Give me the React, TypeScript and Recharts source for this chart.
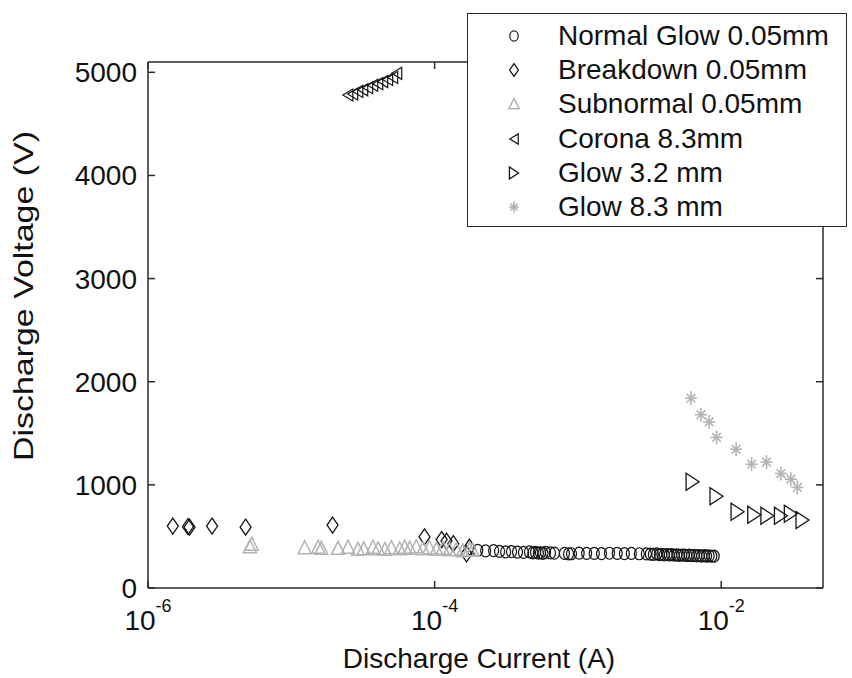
import React from 'react';
import { ScatterChart, Scatter, XAxis, YAxis } from 'recharts';

// discharge voltage vs current, log x axis

const FONT = '"Liberation Sans", Arial, Helvetica, sans-serif';
const AXIS = '#2a2a2a';
const BLACK = '#151515';
const GRAY = '#b3b3b3';

const X_TICKS = [1e-6, 1e-4, 1e-2];
const Y_TICKS = [0, 1000, 2000, 3000, 4000, 5000];

const SERIES_NAMES = [
  'Normal Glow 0.05mm',
  'Breakdown 0.05mm',
  'Subnormal 0.05mm',
  'Corona 8.3mm',
  'Glow 3.2 mm',
  'Glow 8.3 mm',
];

// Normal Glow 0.05mm
const normalGlowCurrent = [
  2.0e-4, 2.27e-4, 2.58e-4, 2.84e-4, 3.13e-4, 3.44e-4, 3.79e-4, 4.17e-4, 4.59e-4, 4.85e-4,
  5.06e-4, 5.3e-4, 5.48e-4, 5.7e-4, 5.94e-4, 6.43e-4, 6.86e-4, 8.05e-4, 8.6e-4, 9.02e-4,
  1.02e-3, 1.15e-3, 1.3e-3, 1.46e-3, 1.66e-3, 1.88e-3, 2.11e-3, 2.36e-3, 2.68e-3, 3.0e-3,
  3.2e-3, 3.36e-3, 3.55e-3, 3.7e-3, 3.85e-3, 4.01e-3, 4.2e-3, 4.34e-3, 4.5e-3, 4.7e-3,
  4.9e-3, 5.1e-3, 5.3e-3, 5.52e-3, 5.75e-3, 5.98e-3, 6.2e-3, 6.48e-3, 6.75e-3, 7.03e-3,
  7.3e-3, 7.62e-3, 7.9e-3, 8.24e-3, 8.6e-3, 8.93e-3,
];
const normalGlowVoltage = [
  365, 360, 362, 355, 350, 352, 348, 345, 350, 340,
  345, 338, 342, 336, 345, 340, 338, 335, 330, 332,
  338, 336, 335, 334, 337, 336, 334, 335, 332, 330,
  328, 326, 330, 324, 327, 322, 325, 320, 324, 318,
  322, 316, 320, 318, 315, 318, 314, 316, 312, 315,
  310, 313, 310, 312, 308, 310,
];

// Breakdown 0.05mm
const breakdownCurrent = [1.49e-6, 1.9e-6, 1.95e-6, 2.8e-6, 4.8e-6, 1.94e-5, 8.5e-5, 1.12e-4, 1.21e-4, 1.35e-4, 1.67e-4, 1.75e-4];
const breakdownVoltage = [600, 595, 590, 600, 590, 610, 495, 470, 455, 430, 330, 395];

// Subnormal 0.05mm
const subnormalCurrent = [
  5.14e-6, 5.3e-6, 1.24e-5, 1.54e-5, 1.62e-5, 2.12e-5, 2.49e-5, 2.92e-5, 3.2e-5, 3.72e-5,
  4.03e-5, 4.5e-5, 4.99e-5, 5.7e-5, 6.18e-5, 6.7e-5, 7.45e-5, 8.3e-5, 9.2e-5, 1.03e-4,
  1.14e-4, 1.27e-4, 1.42e-4, 1.57e-4, 1.75e-4, 1.84e-4,
];
const subnormalVoltage = [
  400, 425, 390, 395, 385, 385, 395, 375, 380, 395,
  380, 375, 390, 380, 395, 385, 400, 380, 390, 375,
  385, 370, 375, 360, 370, 365,
];

// Corona 8.3mm
const coronaCurrent = [2.48e-5, 2.68e-5, 2.91e-5, 3.15e-5, 3.41e-5, 3.7e-5, 4.01e-5, 4.34e-5, 4.7e-5, 5.1e-5, 5.44e-5];
const coronaVoltage = [4780, 4790, 4815, 4830, 4850, 4875, 4890, 4910, 4930, 4950, 4990];

// Glow 3.2 mm
const glow32Current = [6.31e-3, 9.27e-3, 1.3e-2, 1.7e-2, 2.1e-2, 2.61e-2, 3.06e-2, 3.69e-2];
const glow32Voltage = [1030, 890, 740, 710, 700, 700, 720, 660];

// Glow 8.3 mm
const glow83Current = [6.15e-3, 7.22e-3, 8.24e-3, 9.27e-3, 1.27e-2, 1.63e-2, 2.07e-2, 2.61e-2, 3.06e-2, 3.4e-2];
const glow83Voltage = [1840, 1680, 1610, 1460, 1345, 1200, 1220, 1110, 1055, 975];

const toPoints = (xs: number[], ys: number[]) => xs.map((x, i) => ({ x, y: ys[i] }));

// ---- marker shapes ----
const circleShape = (s = 1) => (p: any) => (
  <ellipse cx={p.cx} cy={p.cy} rx={5 * s} ry={6 * s} fill="none" stroke={BLACK} strokeWidth={1.2} />
);
const diamondShape = (s = 1) => (p: any) => (
  <path
    d={`M${p.cx},${p.cy - 8 * s} L${p.cx + 5.5 * s},${p.cy} L${p.cx},${p.cy + 8 * s} L${p.cx - 5.5 * s},${p.cy} Z`}
    fill="none"
    stroke={BLACK}
    strokeWidth={1.3}
  />
);
const upTriShape = (s = 1) => (p: any) => (
  <path
    d={`M${p.cx},${p.cy - 7 * s} L${p.cx + 6.5 * s},${p.cy + 6 * s} L${p.cx - 6.5 * s},${p.cy + 6 * s} Z`}
    fill="none"
    stroke={GRAY}
    strokeWidth={1.5}
  />
);
const leftTriShape = (s = 1) => (p: any) => (
  <path
    d={`M${p.cx - 5 * s},${p.cy} L${p.cx + 5 * s},${p.cy - 6 * s} L${p.cx + 5 * s},${p.cy + 6 * s} Z`}
    fill="none"
    stroke={BLACK}
    strokeWidth={1.2}
  />
);
const rightTriShape = (s = 1) => (p: any) => (
  <path
    d={`M${p.cx + 6.5 * s},${p.cy} L${p.cx - 6.5 * s},${p.cy - 8.5 * s} L${p.cx - 6.5 * s},${p.cy + 8.5 * s} Z`}
    fill="none"
    stroke={BLACK}
    strokeWidth={1.3}
  />
);
const starShape = (s = 1) => (p: any) => {
  const r = 6 * s;
  const d = 4.3 * s;
  return (
    <g stroke={GRAY} strokeWidth={1.6}>
      <line x1={p.cx - r} y1={p.cy} x2={p.cx + r} y2={p.cy} />
      <line x1={p.cx} y1={p.cy - r - 1} x2={p.cx} y2={p.cy + r + 1} />
      <line x1={p.cx - d} y1={p.cy - d} x2={p.cx + d} y2={p.cy + d} />
      <line x1={p.cx - d} y1={p.cy + d} x2={p.cx + d} y2={p.cy - d} />
    </g>
  );
};

const LEGEND_SHAPES = [circleShape(0.85), diamondShape(0.8), upTriShape(0.8), leftTriShape(0.85), rightTriShape(0.7), starShape(0.8)];

// ---- axis ticks ----
const BottomTick = (props: any) => {
  const { x, y, payload } = props;
  const exp = Math.round(Math.log10(payload.value));
  return (
    <g>
      <line x1={x} y1={y} x2={x} y2={y - 7} stroke={AXIS} strokeWidth={1.5} />
      <text x={x} y={y + 42} textAnchor="middle" fontSize={28} fill="#111" fontFamily={FONT}>
        <tspan>10</tspan>
        <tspan dy={-18} fontSize={18}>{`-${Math.abs(exp)}`}</tspan>
      </text>
    </g>
  );
};

const TopTick = (props: any) => {
  const { x, y } = props;
  return <line x1={x} y1={y} x2={x} y2={y + 7} stroke={AXIS} strokeWidth={1.5} />;
};

const LeftTick = (props: any) => {
  const { x, y, payload } = props;
  return (
    <g>
      <line x1={x} y1={y} x2={x + 7} y2={y} stroke={AXIS} strokeWidth={1.5} />
      <text x={x - 11} y={y + 10} textAnchor="end" fontSize={28} fill="#111" fontFamily={FONT}>
        {payload.value}
      </text>
    </g>
  );
};

const RightTick = (props: any) => {
  const { x, y } = props;
  return <line x1={x} y1={y} x2={x - 7} y2={y} stroke={AXIS} strokeWidth={1.5} />;
};

const XLabel = () => (
  <text x={479} y={668} textAnchor="middle" fontSize={28} fill="#111" fontFamily={FONT}>
    Discharge Current (A)
  </text>
);

const YLabel = () => (
  <text
    x={0}
    y={0}
    transform="translate(33 296) rotate(-90)"
    textAnchor="middle"
    fontSize={28}
    fill="#111"
    fontFamily={FONT}
    textLength={330}
    lengthAdjust="spacingAndGlyphs"
  >
    Discharge Voltage (V)
  </text>
);

function ChartLegend() {
  return (
    <div
      style={{
        position: 'absolute',
        left: 467,
        top: 13,
        width: 380,
        height: 214,
        border: `1.5px solid ${AXIS}`,
        background: '#fff',
        boxSizing: 'border-box',
        fontFamily: FONT,
      }}
    >
      {SERIES_NAMES.map((name, i) => {
        const Shape = LEGEND_SHAPES[i];
        return (
          <div
            key={name}
            style={{ position: 'absolute', left: 0, top: 22 + i * 34.2 - 20, height: 40, display: 'flex', alignItems: 'center' }}
          >
            <svg width={90} height={40} style={{ display: 'block' }}>
              {Shape({ cx: 46, cy: 20 })}
            </svg>
            <span style={{ fontSize: 28, color: '#111', whiteSpace: 'nowrap' }}>{name}</span>
          </div>
        );
      })}
    </div>
  );
}

export default function App() {
  const series = [
    { name: SERIES_NAMES[0], data: toPoints(normalGlowCurrent, normalGlowVoltage), shape: circleShape() },
    { name: SERIES_NAMES[1], data: toPoints(breakdownCurrent, breakdownVoltage), shape: diamondShape() },
    { name: SERIES_NAMES[2], data: toPoints(subnormalCurrent, subnormalVoltage), shape: upTriShape() },
    { name: SERIES_NAMES[3], data: toPoints(coronaCurrent, coronaVoltage), shape: leftTriShape() },
    { name: SERIES_NAMES[4], data: toPoints(glow32Current, glow32Voltage), shape: rightTriShape() },
    { name: SERIES_NAMES[5], data: toPoints(glow83Current, glow83Voltage), shape: starShape() },
  ];

  return (
    <div style={{ position: 'relative', width: 852, height: 678, background: '#fff' }}>
      <style>{'body{margin:0;background:#fff}'}</style>
      <ScatterChart width={852} height={678} margin={{ top: 61, right: 28, bottom: 60, left: 88 }}>
        <XAxis
          xAxisId="b"
          type="number"
          dataKey="x"
          scale="log"
          domain={[1e-6, 0.0513]}
          allowDataOverflow
          ticks={X_TICKS}
          interval={0}
          height={30}
          tickSize={0}
          tickMargin={0}
          tickLine={false}
          tick={<BottomTick />}
          axisLine={{ stroke: AXIS, strokeWidth: 1.5 }}
          label={<XLabel />}
        />
        <XAxis
          xAxisId="t"
          orientation="top"
          type="number"
          dataKey="x"
          scale="log"
          domain={[1e-6, 0.0513]}
          allowDataOverflow
          ticks={X_TICKS}
          interval={0}
          height={1}
          tickSize={0}
          tickMargin={0}
          tickLine={false}
          tick={<TopTick />}
          axisLine={{ stroke: AXIS, strokeWidth: 1.5 }}
        />
        <YAxis
          yAxisId="l"
          type="number"
          dataKey="y"
          domain={[0, 5100]}
          allowDataOverflow
          ticks={Y_TICKS}
          interval={0}
          width={60}
          tickSize={0}
          tickMargin={0}
          tickLine={false}
          tick={<LeftTick />}
          axisLine={{ stroke: AXIS, strokeWidth: 1.5 }}
          label={<YLabel />}
        />
        <YAxis
          yAxisId="r"
          orientation="right"
          type="number"
          dataKey="y"
          domain={[0, 5100]}
          allowDataOverflow
          ticks={Y_TICKS}
          interval={0}
          width={1}
          tickSize={0}
          tickMargin={0}
          tickLine={false}
          tick={<RightTick />}
          axisLine={{ stroke: AXIS, strokeWidth: 1.5 }}
        />
        {series.map((s) => (
          <Scatter
            key={s.name}
            name={s.name}
            data={s.data}
            xAxisId="b"
            yAxisId="l"
            shape={s.shape}
            isAnimationActive={false}
          />
        ))}
      </ScatterChart>
      <ChartLegend />
    </div>
  );
}
